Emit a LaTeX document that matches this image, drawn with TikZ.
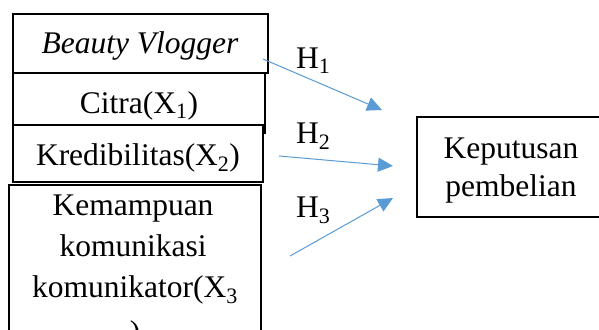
\documentclass[tikz,border=0pt]{standalone}
\usepackage{fontspec}
\setmainfont{Liberation Serif}
\usetikzlibrary{arrows.meta}
\definecolor{arrowblue}{HTML}{5B9BD5}
\tikzset{
  box/.style={draw=black, line width=2pt, fill=white, inner sep=0pt},
  txt/.style={inner sep=0pt, font=\fontsize{31.5}{36}\selectfont},
  hyp/.style={draw=arrowblue, line width=1pt, -{Triangle[length=15pt, width=14pt]}},
}
\begin{document}
\begin{tikzpicture}[x=1pt, y=-1pt]
\useasboundingbox (0,0) rectangle (599,329);
\clip (0,0) rectangle (599,329);
% left stacked boxes
\node[box, minimum width=255pt, minimum height=59pt] (b1) at (140.5,43.5) {};
\node[box, minimum width=252pt, minimum height=60pt] (b2) at (139,103) {};
\node[box, minimum width=250pt, minimum height=57pt] (b3) at (138,153.5) {};
\node[box, minimum width=252pt, minimum height=160pt] (b4) at (135,265) {};
% right box
\node[box, minimum width=200pt, minimum height=100pt] (r) at (517,167) {};
% texts
\node[txt, anchor=base] (t1) at (140,54) {\textit{Beauty Vlogger}};
\node[txt, anchor=base] (t2) at (139,113) {Citra(X\textsubscript{1})};
\node[txt, anchor=base] (t3) at (138,165) {Kredibilitas(X\textsubscript{2})};
\node[txt, anchor=base] (t4a) at (133,215) {Kemampuan};
\node[txt, anchor=base] (t4b) at (133,256) {komunikasi};
\node[txt, anchor=base] (t4c) at (135,297) {komunikator(X\textsubscript{3}};
\node[txt, anchor=base] (t4d) at (135,342) {)};
\node[txt, anchor=base] (k1) at (511,158) {Keputusan};
\node[txt, anchor=base] (k2) at (511,196) {pembelian};
% hypothesis labels
\node[txt, anchor=base west] (h1) at (296,68) {H\textsubscript{1}};
\node[txt, anchor=base west] (h2) at (296,143) {H\textsubscript{2}};
\node[txt, anchor=base west] (h3) at (296,217) {H\textsubscript{3}};
% arrows
\coordinate (s1) at (263,59);
\coordinate (e1) at (382,110);
\coordinate (s2) at (279,156);
\coordinate (e2) at (393,166);
\coordinate (s3) at (290,256);
\coordinate (e3) at (393,198);
\draw[hyp] (s1) -- (e1);
\draw[hyp] (s2) -- (e2);
\draw[hyp] (s3) -- (e3);
\end{tikzpicture}
\end{document}
